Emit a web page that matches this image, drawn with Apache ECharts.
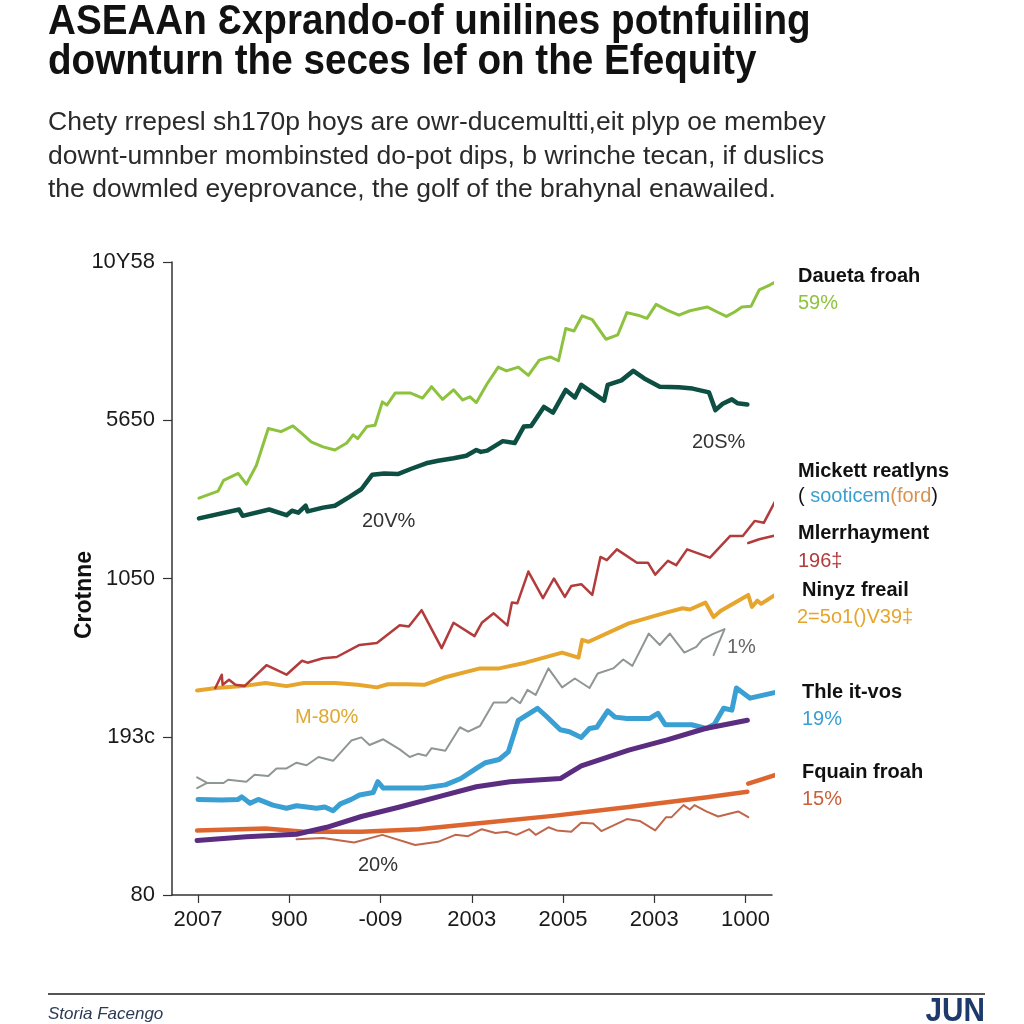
<!DOCTYPE html>
<html><head><meta charset="utf-8">
<script src="https://cdn.jsdelivr.net/npm/echarts@6/dist/echarts.min.js"></script>
<style>html,body{margin:0;padding:0;background:#fff}#c{width:1024px;height:1024px}</style>
</head><body><div id="c"></div>
<script>
// ---- data (x in tick units, y in axis percent) ----
const xTickValues = [0, 1, 2, 3, 4, 5, 6];
const xTickLabels = ['2007', '900', '-009', '2003', '2005', '2003', '1000'];
const yTickLabels = ['80', '193c', '1050', '5650', '10Y58'];

const greenLight = [[0.01,62.7],[0.22,63.8],[0.28,65.5],[0.44,66.6],[0.53,64.9],[0.64,67.9],[0.77,73.7],[0.91,73.2],[1.04,74.1],[1.14,72.9],[1.24,71.6],[1.37,70.8],[1.50,70.3],[1.63,71.4],[1.70,72.7],[1.75,72.1],[1.85,74.0],[1.94,74.2],[2.02,77.9],[2.07,77.4],[2.16,79.3],[2.33,79.3],[2.46,78.5],[2.56,80.3],[2.68,78.3],[2.80,79.8],[2.90,78.2],[2.98,78.7],[3.05,77.8],[3.17,80.8],[3.29,83.4],[3.38,82.8],[3.51,83.4],[3.62,82.1],[3.74,84.5],[3.86,85.0],[3.95,84.4],[4.03,89.5],[4.12,89.1],[4.21,91.5],[4.32,90.9],[4.47,87.8],[4.60,88.5],[4.70,92.0],[4.82,91.6],[4.92,91.1],[5.02,93.3],[5.14,92.4],[5.27,91.6],[5.39,92.3],[5.58,92.9],[5.69,92.1],[5.79,91.4],[5.88,92.1],[5.96,92.9],[6.06,93.0],[6.15,95.6],[6.27,96.4],[6.41,97.5]];
const greenDark = [[0.01,59.5],[0.45,60.9],[0.49,59.9],[0.78,60.9],[0.97,60.0],[1.03,60.7],[1.10,60.4],[1.18,61.5],[1.20,60.6],[1.37,61.2],[1.50,61.5],[1.66,62.9],[1.79,64.1],[1.91,66.4],[2.04,66.6],[2.19,66.5],[2.33,67.3],[2.50,68.2],[2.63,68.6],[2.80,69.0],[2.94,69.4],[3.05,70.3],[3.10,70.0],[3.17,70.2],[3.34,71.7],[3.47,71.4],[3.57,74.0],[3.65,74.1],[3.79,77.1],[3.89,76.2],[4.03,79.8],[4.13,78.6],[4.20,80.6],[4.33,79.3],[4.45,78.1],[4.49,80.6],[4.64,81.3],[4.77,82.8],[4.89,81.6],[5.06,80.3],[5.27,80.2],[5.42,80.0],[5.60,79.4],[5.67,76.6],[5.75,77.6],[5.85,78.3],[5.91,77.7],[6.02,77.5]];
const red = [[0.19,32.7],[0.26,34.8],[0.27,33.2],[0.34,34.0],[0.41,33.2],[0.51,33.0],[0.75,36.3],[0.97,34.8],[1.14,37.0],[1.20,36.7],[1.37,37.4],[1.52,37.6],[1.77,39.5],[1.96,39.8],[2.21,42.6],[2.31,42.4],[2.45,45.0],[2.67,39.0],[2.80,43.0],[3.03,40.9],[3.11,43.0],[3.24,44.5],[3.39,42.6],[3.44,46.2],[3.50,46.1],[3.62,51.1],[3.78,46.9],[3.90,50.0],[4.02,47.1],[4.09,48.8],[4.20,49.1],[4.32,47.4],[4.41,53.4],[4.48,52.9],[4.59,54.6],[4.81,52.5],[4.93,52.5],[5.01,50.6],[5.15,52.8],[5.24,52.1],[5.36,54.6],[5.61,53.3],[5.83,56.7],[5.97,56.7],[6.10,59.1],[6.20,58.8],[6.45,65.6]];
const redStub = [[6.03,55.6],[6.15,56.2],[6.30,56.7],[6.44,57.1]];
const yellow = [[-0.01,32.3],[0.20,32.7],[0.49,33.0],[0.74,33.5],[0.97,33.0],[1.16,33.5],[1.50,33.5],[1.75,33.2],[1.96,32.8],[2.08,33.3],[2.29,33.3],[2.48,33.2],[2.71,34.4],[3.09,35.8],[3.30,35.8],[3.59,36.7],[3.99,38.3],[4.17,37.5],[4.21,40.3],[4.28,40.0],[4.72,42.9],[5.10,44.5],[5.31,45.3],[5.39,45.1],[5.56,46.2],[5.65,43.9],[5.73,44.9],[6.03,47.4],[6.07,45.5],[6.13,46.5],[6.17,46.0],[6.38,47.9]];
const gray = [[-0.01,18.6],[0.10,17.7],[-0.01,16.9],[0.10,17.7],[0.28,17.7],[0.33,18.2],[0.53,17.9],[0.62,19.0],[0.77,18.8],[0.86,20.0],[0.97,20.0],[1.08,20.9],[1.19,20.5],[1.32,21.8],[1.48,21.2],[1.68,24.4],[1.79,24.9],[1.88,23.7],[2.03,24.6],[2.21,23.0],[2.32,21.8],[2.41,22.3],[2.50,22.0],[2.56,23.2],[2.71,22.8],[2.87,26.5],[2.96,25.8],[3.09,26.7],[3.24,30.4],[3.38,30.4],[3.44,31.2],[3.53,30.3],[3.61,32.4],[3.70,31.6],[3.84,35.8],[3.99,32.8],[4.13,34.2],[4.29,32.7],[4.38,35.0],[4.55,35.8],[4.66,37.2],[4.76,36.2],[4.94,41.3],[5.06,39.5],[5.17,41.3],[5.33,38.3],[5.46,39.2],[5.53,40.4],[5.64,41.2],[5.77,42.0],[5.65,37.9]];
const blue = [[0.00,15.1],[0.26,15.0],[0.44,15.1],[0.48,15.5],[0.57,14.5],[0.66,15.1],[0.82,14.2],[0.97,13.7],[1.08,14.1],[1.19,13.9],[1.30,13.7],[1.39,13.9],[1.48,13.3],[1.56,14.4],[1.68,15.1],[1.77,15.8],[1.92,16.2],[1.97,17.9],[2.03,16.9],[2.25,16.9],[2.47,16.9],[2.71,17.4],[2.88,18.4],[3.05,20.0],[3.15,20.9],[3.30,21.4],[3.40,22.6],[3.51,27.6],[3.72,29.5],[3.82,28.2],[3.97,26.1],[4.07,25.8],[4.20,24.9],[4.29,26.3],[4.37,26.5],[4.49,29.1],[4.57,28.1],[4.70,27.9],[4.95,27.9],[5.04,28.7],[5.12,26.9],[5.41,26.9],[5.57,26.3],[5.66,27.0],[5.76,29.5],[5.85,29.2],[5.90,32.7],[6.05,31.1],[6.42,32.3]];
const purple = [[-0.01,8.6],[0.53,9.2],[1.08,9.6],[1.41,10.7],[1.79,12.4],[2.21,13.9],[2.63,15.5],[3.05,17.1],[3.42,17.9],[3.97,18.4],[4.20,20.4],[4.72,22.9],[5.14,24.5],[5.56,26.3],[6.02,27.6]];
const orange = [[-0.01,10.2],[0.74,10.5],[1.16,10.0],[1.79,10.0],[2.42,10.4],[3.05,11.3],[3.89,12.5],[4.72,13.9],[5.56,15.4],[6.02,16.3]];
const orangeStub = [[6.03,17.6],[6.40,19.3]];
const brown = [[1.08,8.8],[1.37,9.0],[1.71,8.3],[2.02,9.5],[2.38,7.9],[2.63,8.4],[2.82,9.5],[2.96,9.3],[3.11,10.4],[3.26,9.8],[3.38,10.0],[3.49,9.5],[3.63,10.4],[3.70,9.5],[3.84,10.7],[3.93,10.2],[4.09,10.0],[4.20,11.4],[4.33,11.3],[4.42,10.1],[4.70,12.0],[4.84,11.7],[5.01,10.2],[5.13,12.3],[5.19,12.3],[5.32,14.2],[5.39,13.5],[5.44,14.2],[5.57,13.2],[5.70,12.4],[5.92,13.2],[6.03,12.3]];

const FONT = "'Liberation Sans', Arial, Helvetica, sans-serif";

function line(data, color, width, z) {
  return { type: 'line', data: data, showSymbol: false, symbol: 'none', clip: false, z: z || 2,
    lineStyle: { color: color, width: width, cap: 'round', join: 'round' }, silent: true };
}
function txt(text, x, y, size, color, weight, extra) {
  return Object.assign({ type: 'text', x: x, y: y, silent: true,
    style: { text: text, fill: color, font: (weight || 'normal') + ' ' + size + 'px ' + FONT,
      align: 'left', verticalAlign: 'middle' } }, extra || {});
}

const chart = echarts.init(document.getElementById('c'), null, { renderer: 'canvas' });
chart.setOption({
  backgroundColor: '#ffffff',
  animation: false,
  grid: { left: 172, right: 252, top: 262, bottom: 129 },
  xAxis: {
    type: 'value', min: -0.285, max: 6.29,
    splitLine: { show: false },
    axisLine: { show: true, onZero: false, lineStyle: { color: '#333', width: 1.5 } },
    axisTick: { show: true, customValues: xTickValues, length: 8, lineStyle: { color: '#333', width: 1.2 } },
    axisLabel: { customValues: xTickValues, margin: 14, fontSize: 22, color: '#1a1a1a', fontFamily: FONT,
      formatter: function (v) { return xTickLabels[Math.round(v)]; } }
  },
  yAxis: {
    type: 'value', min: 0, max: 100, interval: 25,
    splitLine: { show: false },
    axisLine: { show: true, onZero: false, lineStyle: { color: '#333', width: 1.5 } },
    axisTick: { show: true, length: 9, lineStyle: { color: '#333', width: 1.2 } },
    axisLabel: { margin: 17, fontSize: 22, color: '#1a1a1a', fontFamily: FONT,
      formatter: function (v) { return yTickLabels[Math.round(v / 25)]; } }
  },
  series: [
    line(orange, '#dd6630', 4.5, 2),
    line(orangeStub, '#dd6630', 4.5, 2),
    line(brown, '#c0664a', 2, 3),
    line(purple, '#5b2d80', 5, 4),
    line(blue, '#3a9fd2', 5, 3),
    line(gray, '#8f9693', 2, 3),
    line(yellow, '#e6a52c', 4, 3),
    line(red, '#b23b3b', 2.5, 3),
    line(redStub, '#b23b3b', 2.5, 3),
    line(greenDark, '#0e4f43', 4.5, 3),
    line(greenLight, '#8dc23e', 3, 3)
  ],
  graphic: [
    txt('ASEAAn Ɛxprando-of unilines potnfuiling', 48, 22, 42, '#111', 'bold', { scaleX: 0.92 }),
    txt('downturn the seces lef on the Efequity', 48, 62, 42, '#111', 'bold', { scaleX: 0.92 }),
    txt('Chety rrepesl sh170p hoys are owr-ducemultti,eit plyp oe membey', 48, 123, 26.5, '#2a2a2a'),
    txt('downt-umnber mombinsted do-pot dips, b wrinche tecan, if duslics', 48, 157, 26.5, '#2a2a2a'),
    txt('the dowmled eyeprovance, the golf of the brahynal enawailed.', 48, 190, 26.5, '#2a2a2a'),
    { type: 'text', x: 85, y: 595, rotation: Math.PI / 2, silent: true,
      style: { text: 'Crotnne', fill: '#111', font: 'bold 23px ' + FONT, align: 'center', verticalAlign: 'middle' } },
    txt('Daueta froah', 798, 276, 20, '#111', 'bold'),
    txt('59%', 798, 303, 20, '#8dc23e'),
    txt('Mickett reatlyns', 798, 471, 20, '#111', 'bold'),
    { type: 'text', x: 798, y: 496, silent: true, style: {
        text: '{k|( }{b|sooticem}{o|(ford}{k|)}', align: 'left', verticalAlign: 'middle',
        font: '20px ' + FONT,
        rich: { k: { fill: '#111', font: '20px ' + FONT }, b: { fill: '#3a9fd2', font: '20px ' + FONT }, o: { fill: '#d9914f', font: '20px ' + FONT } } } },
    txt('Mlerrhayment', 798, 533, 20, '#111', 'bold'),
    txt('196‡', 798, 561, 20, '#b23b3b'),
    txt('Ninyz freail', 802, 590, 20, '#111', 'bold'),
    txt('2=5o1()V39‡', 797, 617, 20, '#e6a52c'),
    txt('Thle it-vos', 802, 692, 20, '#111', 'bold'),
    txt('19%', 802, 719, 20, '#3a9fd2'),
    txt('Fquain froah', 802, 772, 20, '#111', 'bold'),
    txt('15%', 802, 799, 20, '#c8603a'),
    txt('20V%', 362, 521, 20, '#333'),
    txt('20S%', 692, 442, 20, '#333'),
    txt('M-80%', 295, 717, 20, '#e0a830'),
    txt('1%', 727, 647, 20, '#666'),
    txt('20%', 358, 865, 20, '#333'),
    { type: 'line', silent: true, shape: { x1: 48, y1: 994, x2: 985, y2: 994 }, style: { stroke: '#555', lineWidth: 2 } },
    txt('Storia Facengo', 48, 1014, 17, '#2b3a55', 'italic'),
    { type: 'text', x: 985, y: 1012, silent: true, scaleX: 0.9,
      style: { text: 'JUN', fill: '#1e3a6b', font: 'bold 33px ' + FONT, align: 'right', verticalAlign: 'middle' } }
  ]
});
</script></body></html>
